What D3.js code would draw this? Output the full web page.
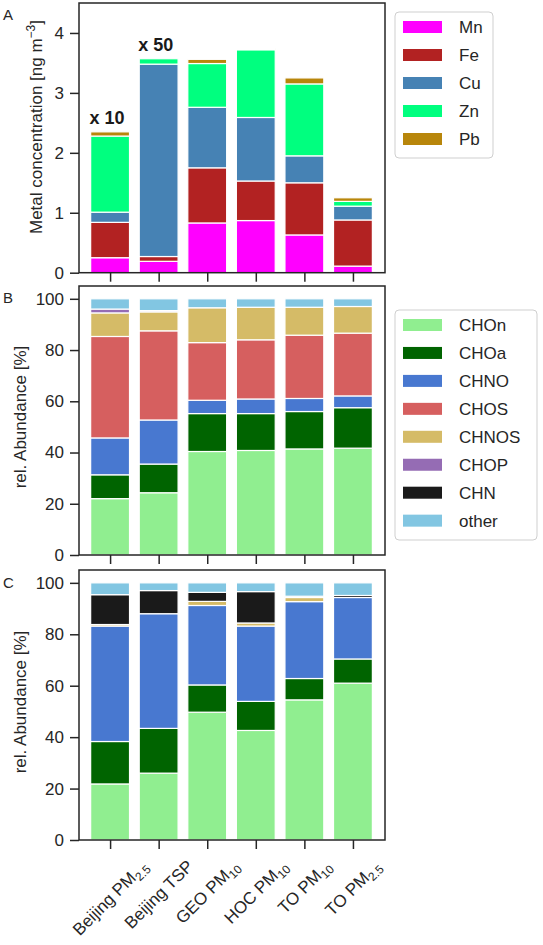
<!DOCTYPE html>
<html>
<head>
<meta charset="utf-8">
<script src="https://cdn.jsdelivr.net/npm/d3@7"></script>
<style>
  body { margin: 0; background: #fff; }
  svg { font-family: 'Liberation Sans', Arial, sans-serif; }
</style>
</head>
<body>
<svg id="chart" width="543" height="945"></svg>
<script>
// sites (x axis), subscripts are drawn smaller
const sites = ['Beijing PM', 'Beijing TSP', 'GEO PM', 'HOC PM', 'TO PM', 'TO PM']
const siteSubs = ['2.5', '', '10', '10', '10', '2.5']

// panel A: metals [ng m-3], stacked
const metals = ['Mn', 'Fe', 'Cu', 'Zn', 'Pb']
const metalColors = ['#ff00ff', '#b22222', '#4682b4', '#00ff7f', '#b8860b']
const mnValues = [0.25, 0.19, 0.83, 0.87, 0.63, 0.11]
const feValues = [0.59, 0.08, 0.92, 0.66, 0.87, 0.77]
const cuValues = [0.17, 3.21, 1.01, 1.06, 0.45, 0.23]
const znValues = [1.27, 0.09, 0.73, 1.13, 1.20, 0.08]
const pbValues = [0.07, 0.00, 0.07, 0.02, 0.10, 0.06]
const scaleNotes = ['x 10', 'x 50', '', '', '', '']
const metalTicks = [0, 1, 2, 3, 4]

// panels B and C: compound groups [%]
const groups = ['CHOn', 'CHOa', 'CHNO', 'CHOS', 'CHNOS', 'CHOP', 'CHN', 'other']
const groupColors = ['#90ee90', '#006400', '#4878d0', '#d65f5f', '#d5bb67', '#956cb4', '#1a1a1a', '#82c6e2']
const abundanceTicks = [0, 20, 40, 60, 80, 100]

const bCHOn = [22.0, 24.3, 40.4, 40.8, 41.4, 41.7]
const bCHOa = [9.3, 11.2, 14.8, 14.4, 14.6, 15.8]
const bCHNO = [14.4, 17.2, 5.2, 5.7, 5.1, 4.6]
const bCHOS = [39.6, 34.8, 22.5, 23.1, 24.7, 24.5]
const bCHNOS = [9.2, 7.4, 13.6, 12.7, 10.9, 10.4]
const bCHOP = [1.5, 0.5, 0, 0, 0, 0]
const bCHN = [0, 0, 0, 0, 0, 0]
const bOther = [4.0, 4.6, 3.5, 3.3, 3.3, 3.0]

const cCHOn = [21.8, 26.0, 49.7, 42.6, 54.5, 61.0]
const cCHOa = [16.5, 17.4, 10.6, 11.3, 8.3, 9.4]
const cCHNO = [44.9, 44.6, 30.9, 29.3, 29.9, 23.9]
const cCHOS = [0, 0, 0, 0, 0, 0]
const cCHNOS = [0.6, 0, 1.6, 1.2, 1.6, 0]
const cCHOP = [0, 0, 0, 0, 0, 0]
const cCHN = [11.6, 9.0, 3.5, 12.2, 0.5, 0.8]
const cOther = [4.6, 3.0, 3.7, 3.4, 5.2, 4.9]

const ink = '#262626'
const left = 79
const right = 385

/**
 * Builds one row object per site from a list of series arrays
 */
function buildRows (keys, series) {
  return sites.map((s, i) => {
    const row = { idx: i }
    keys.forEach((k, j) => { row[k] = series[j][i] })
    return row
  })
}

const metalRows = buildRows(metals, [mnValues, feValues, cuValues, znValues, pbValues])
const bRows = buildRows(groups, [bCHOn, bCHOa, bCHNO, bCHOS, bCHNOS, bCHOP, bCHN, bOther])
const cRows = buildRows(groups, [cCHOn, cCHOa, cCHNO, cCHOS, cCHNOS, cCHOP, cCHN, cOther])

const svg = d3.select('#chart')
const xScale = d3.scaleLinear().domain([-0.64, 5.66]).range([left, right])
const barWidth = xScale(0.8) - xScale(0)

/**
 * Draws one stacked bar panel with its frame and ticks
 */
function drawPanel (opts) {
  const g = svg.append('g')
  const yScale = d3.scaleLinear().domain(opts.yDomain).range([opts.bottom, opts.top])
  const color = d3.scaleOrdinal().domain(opts.keys).range(opts.colors)
  const stacked = d3.stack().keys(opts.keys)(opts.rows)

  g.selectAll('g.series')
    .data(stacked)
    .join('g')
    .classed('series', true)
    .attr('fill', d => color(d.key))
    .selectAll('rect')
    .data(d => d.filter(p => p[1] - p[0] > 0))
    .join('rect')
    .attr('x', d => xScale(d.data.idx) - barWidth / 2)
    .attr('width', barWidth)
    .attr('y', d => yScale(d[1]))
    .attr('height', d => yScale(d[0]) - yScale(d[1]))
    .attr('stroke', '#fff')
    .attr('stroke-width', 1.2)

  // frame
  g.append('rect')
    .attr('x', left).attr('y', opts.top)
    .attr('width', right - left).attr('height', opts.bottom - opts.top)
    .attr('fill', 'none').attr('stroke', ink).attr('stroke-width', 1.5)

  const yAxis = g.append('g').attr('transform', `translate(${left},0)`)
    .call(d3.axisLeft(yScale).tickValues(opts.ticks).tickSize(9).tickPadding(6).tickFormat(d3.format('d')))
  const xAxis = g.append('g').attr('transform', `translate(0,${opts.bottom})`)
    .call(d3.axisBottom(xScale).tickValues(d3.range(sites.length)).tickSize(9).tickFormat(''))
  ;[yAxis, xAxis].forEach(a => {
    a.select('.domain').remove()
    a.selectAll('line').attr('stroke', ink).attr('stroke-width', 1.5)
    a.selectAll('text').attr('fill', ink).style('font-size', '17px')
      .style('font-family', "'Liberation Sans', Arial, sans-serif")
  })

  g.append('text').attr('x', 3).attr('y', opts.top + opts.letterDy)
    .attr('fill', ink).style('font-size', '15px').text(opts.letter)

  return { g, yScale }
}

/**
 * Draws a framed legend box
 */
function drawLegend (keys, colors, x, y, w, h, first, step) {
  const g = svg.append('g')
  g.append('rect').attr('x', x).attr('y', y).attr('width', w).attr('height', h)
    .attr('rx', 4).attr('fill', '#fff').attr('stroke', '#cfcfcf').attr('stroke-width', 1)
  const item = g.selectAll('g.item').data(keys).join('g').classed('item', true)
    .attr('transform', (d, i) => `translate(${x + 8},${first + step * i})`)
  item.append('rect').attr('x', 0).attr('y', -6).attr('width', 39).attr('height', 12)
    .attr('fill', (d, i) => colors[i])
  item.append('text').attr('x', 56).attr('y', 6).attr('fill', ink)
    .style('font-size', '17px').text(d => d)
}

// ---- panel A
const panelA = drawPanel({
  rows: metalRows, keys: metals, colors: metalColors, yDomain: [0, 4.5], ticks: metalTicks,
  top: 3, bottom: 272.7, letter: 'A', letterDy: 17
})
panelA.g.selectAll('text.note')
  .data(metalRows.filter((r, i) => scaleNotes[i]))
  .join('text')
  .classed('note', true)
  .attr('x', d => xScale(d.idx) - 3)
  .attr('y', d => panelA.yScale(d3.sum(metals, k => d[k])) - 8)
  .attr('text-anchor', 'middle')
  .attr('fill', '#1a1a1a')
  .style('font-size', '18px').style('font-weight', 'bold')
  .text(d => scaleNotes[d.idx])

const labelA = svg.append('text').attr('text-anchor', 'middle').attr('fill', ink)
  .attr('transform', 'translate(36,127) rotate(-90)').attr('dy', '0.35em').style('font-size', '17px')
labelA.append('tspan').text('Metal concentration [ng m')
labelA.append('tspan').attr('dy', -7).style('font-size', '12px').text('\u22123')
labelA.append('tspan').attr('dy', 7).text(']')

drawLegend(metals, metalColors, 395, 12, 98, 146, 27, 28)

// ---- panel B
drawPanel({
  rows: bRows, keys: groups, colors: groupColors, yDomain: [0, 105], ticks: abundanceTicks,
  top: 286, bottom: 555, letter: 'B', letterDy: 17
})
svg.append('text').attr('text-anchor', 'middle').attr('fill', ink)
  .attr('transform', 'translate(20,417) rotate(-90)').attr('dy', '0.35em')
  .style('font-size', '17px').text('rel. Abundance [%]')
drawLegend(groups, groupColors, 395, 310, 142, 230, 325, 27.95)

// ---- panel C
drawPanel({
  rows: cRows, keys: groups, colors: groupColors, yDomain: [0, 105], ticks: abundanceTicks,
  top: 570, bottom: 840, letter: 'C', letterDy: 18
})
svg.append('text').attr('text-anchor', 'middle').attr('fill', ink)
  .attr('transform', 'translate(20,702) rotate(-90)').attr('dy', '0.35em')
  .style('font-size', '17px').text('rel. Abundance [%]')

// rotated site labels under panel C
sites.forEach((name, i) => {
  const t = svg.append('text').attr('text-anchor', 'middle').attr('fill', ink)
    .attr('dy', '0.35em').style('font-size', '17px')
  t.append('tspan').text(name)
  if (siteSubs[i]) t.append('tspan').attr('dy', 4).style('font-size', '12px').text(siteSubs[i])
  const w = t.node().getComputedTextLength()
  const half = (w + 17) / Math.SQRT2 / 2
  t.attr('transform', `translate(${xScale(i)},${857 + half}) rotate(-45)`)
})
</script>
</body>
</html>
